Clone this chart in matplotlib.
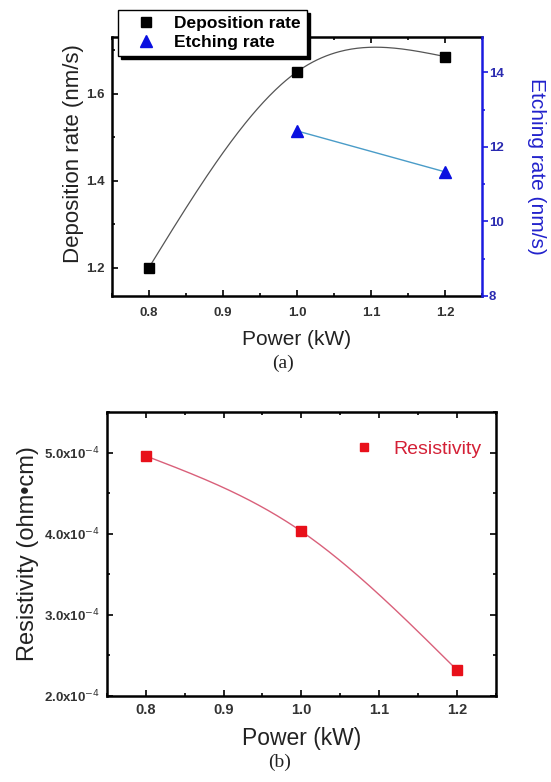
import numpy as np
import matplotlib
matplotlib.use("Agg")
import matplotlib.pyplot as plt
from matplotlib.ticker import MultipleLocator, FixedLocator

plt.rcParams['font.family'] = ['Liberation Sans', 'DejaVu Sans']

# ---- data ----
power = [0.8, 1.0, 1.2]
deposition_rate = [1.20, 1.65, 1.685]
etch_power = [1.0, 1.2]
etching_rate = [12.43, 11.33]
resistivity = [4.96e-4, 4.03e-4, 2.32e-4]
res_ticks = [2.0e-4, 3.0e-4, 4.0e-4, 5.0e-4]
res_ticklabels = [r'2.0x10$^{-4}$', r'3.0x10$^{-4}$', r'4.0x10$^{-4}$', r'5.0x10$^{-4}$']


def natural_spline(x, y, n=200):
    x = np.asarray(x, float); y = np.asarray(y, float)
    k = len(x)
    h = np.diff(x)
    A = np.zeros((k, k)); b = np.zeros(k)
    A[0, 0] = 1; A[-1, -1] = 1
    for i in range(1, k - 1):
        A[i, i - 1] = h[i - 1]; A[i, i] = 2 * (h[i - 1] + h[i]); A[i, i + 1] = h[i]
        b[i] = 6 * ((y[i + 1] - y[i]) / h[i] - (y[i] - y[i - 1]) / h[i - 1])
    M = np.linalg.solve(A, b)
    xs = np.linspace(x[0], x[-1], n)
    ys = np.empty_like(xs)
    for j, xv in enumerate(xs):
        i = min(np.searchsorted(x, xv, side='right') - 1, k - 2)
        hi = h[i]; t0 = x[i + 1] - xv; t1 = xv - x[i]
        ys[j] = (M[i] * t0**3 + M[i + 1] * t1**3) / (6 * hi) \
            + (y[i] / hi - M[i] * hi / 6) * t0 + (y[i + 1] / hi - M[i + 1] * hi / 6) * t1
    return xs, ys


fig = plt.figure(figsize=(5.51, 7.82), dpi=100)

# ---------------- panel (a) ----------------
ax1 = fig.add_axes([0.203, 0.6215, 0.672, 0.3312])
xs, ys = natural_spline(power, deposition_rate)
ax1.plot(xs, ys, color='#555555', lw=0.9, zorder=2)
h1, = ax1.plot(power, deposition_rate, 's', color='black', ms=7, zorder=3, label='Deposition rate')
ax1.set_xlim(0.75, 1.25)
ax1.set_ylim(1.135, 1.73)
ax1.xaxis.set_major_locator(MultipleLocator(0.1))
ax1.xaxis.set_minor_locator(MultipleLocator(0.05))
ax1.yaxis.set_major_locator(FixedLocator([1.2, 1.4, 1.6]))
ax1.yaxis.set_minor_locator(FixedLocator([1.3, 1.5, 1.7]))
ax1.tick_params(which='both', direction='in', top=True, right=False, width=1.2, labelcolor='#333333')
ax1.tick_params(which='major', length=4, pad=5)
ax1.tick_params(axis='x', which='major', pad=8)
ax1.tick_params(which='minor', length=2.5)
for lab in ax1.get_xticklabels() + ax1.get_yticklabels():
    lab.set_fontsize(9.5); lab.set_fontweight('bold')
for s in ax1.spines.values():
    s.set_linewidth(1.8)
ax1.spines['right'].set_visible(False)
ax1.set_xlabel('Power (kW)', fontsize=15, color='#222222', labelpad=8)
ax1.set_ylabel('Deposition rate (nm/s)', fontsize=16, color='#222222')
ax1.yaxis.set_label_coords(-0.075, 0.548)

ax2 = ax1.twinx()
ax2.plot(etch_power, etching_rate, '-', color='#4a9cc8', lw=1.0, zorder=2)
h2, = ax2.plot(etch_power, etching_rate, '^', color='#0a10e0', ms=8, zorder=3, label='Etching rate')
ax2.set_ylim(8, 14.95)
ax2.yaxis.set_major_locator(MultipleLocator(2))
ax2.yaxis.set_minor_locator(MultipleLocator(1))
ax2.tick_params(axis='y', which='both', direction='out', color='#1a1ae0', labelcolor='#2a2ab0', width=1.2)
ax2.tick_params(axis='y', which='major', length=4, pad=1)
ax2.tick_params(axis='y', which='minor', length=2.5)
for lab in ax2.get_yticklabels():
    lab.set_fontsize(9.5); lab.set_fontweight('bold')
for k, s in ax2.spines.items():
    s.set_visible(k == 'right')
ax2.spines['right'].set_color('#1a1ae0')
ax2.spines['right'].set_linewidth(1.8)
ax2.set_ylabel('Etching rate (nm/s)', fontsize=15, color='#2222cc', rotation=270, labelpad=30)

leg = ax2.legend(handles=[h1, h2], loc='upper left', bbox_to_anchor=(0.016, 1.104),
                 frameon=True, fancybox=False, shadow={'color': 'black', 'alpha': 1.0},
                 edgecolor='black', prop={'weight': 'bold', 'size': 12.5},
                 borderpad=0.35, handletextpad=0.4, labelspacing=0.22, handlelength=2.5,
                 borderaxespad=0)
leg.get_frame().set_linewidth(1.0)
leg.set_zorder(10)

fig.text(0.513, 1 - 363 / 782, '(a)', fontsize=14, family=['Liberation Serif', 'DejaVu Serif'],
         ha='center', va='center', color='#222222')

# ---------------- panel (b) ----------------
ax3 = fig.add_axes([0.194, 0.110, 0.706, 0.363])
xs, ys = natural_spline(power, resistivity)
ax3.plot(xs, ys, color='#d9607a', lw=1.0, zorder=2)
h3, = ax3.plot(power, resistivity, 's', color='#e8101a', ms=7, zorder=3, label='Resistivity')
ax3.set_xlim(0.75, 1.25)
ax3.set_ylim(2.0e-4, 5.5e-4)
ax3.xaxis.set_major_locator(MultipleLocator(0.1))
ax3.xaxis.set_minor_locator(MultipleLocator(0.05))
ax3.yaxis.set_major_locator(FixedLocator(res_ticks))
ax3.yaxis.set_minor_locator(MultipleLocator(0.5e-4))
ax3.set_yticklabels(res_ticklabels)
ax3.tick_params(which='both', direction='in', top=True, right=True, width=1.2, labelcolor='#333333')
ax3.tick_params(which='major', length=4, pad=5)
ax3.tick_params(which='minor', length=2.5)
for lab in ax3.get_xticklabels():
    lab.set_fontsize(10.5); lab.set_fontweight('bold')
for lab in ax3.get_yticklabels():
    lab.set_fontsize(9.5); lab.set_fontweight('bold')
for s in ax3.spines.values():
    s.set_linewidth(1.8)
ax3.set_xlabel('Power (kW)', fontsize=16.5, color='#222222', labelpad=7)
ax3.set_ylabel('Resistivity (ohm\u2022cm)', fontsize=17, color='#222222', labelpad=4)
leg3 = ax3.legend(handles=[h3], loc='upper right', bbox_to_anchor=(1.008, 0.962), frameon=False,
                  prop={'size': 14}, handletextpad=1.0, handlelength=1.0, markerscale=0.85)
for t in leg3.get_texts():
    t.set_color('#d42036')

fig.text(0.508, 1 - 762 / 782, '(b)', fontsize=14, family=['Liberation Serif', 'DejaVu Serif'],
         ha='center', va='center', color='#222222')

fig.savefig('out.png', dpi=100)
